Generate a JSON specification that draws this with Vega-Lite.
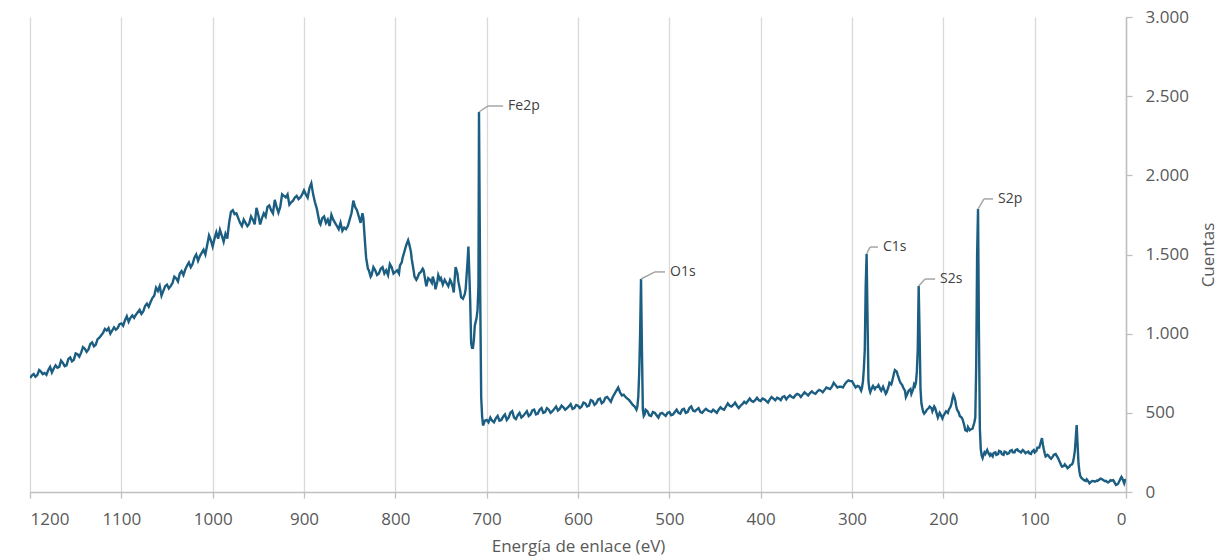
{
  "$schema": "https://vega.github.io/schema/vega-lite/v6.json",
  "width": 1096,
  "height": 475,
  "autosize": {"type": "none"},
  "padding": {"left": 30, "top": 17, "right": 100, "bottom": 67},
  "background": "white",
  "config": {
    "view": {"stroke": null},
    "locale": {"number": {"decimal": ",", "thousands": ".", "grouping": [3], "currency": ["", " €"]}},
    "font": "Open Sans"
  },
  "datasets": {
    "spectrum": [
      {"e":1200,"c":720},{"e":1198,"c":735},{"e":1196,"c":745},{"e":1194,"c":728},{"e":1192,"c":738},{"e":1190,"c":770},{"e":1188,"c":760},{"e":1186,"c":745},{"e":1184,"c":752},{"e":1182,"c":740},{"e":1180,"c":770},{"e":1178,"c":790},{"e":1176,"c":755},{"e":1174,"c":780},{"e":1172,"c":800},{"e":1170,"c":785},{"e":1168,"c":790},{"e":1166,"c":830},{"e":1164,"c":815},{"e":1162,"c":795},{"e":1160,"c":800},{"e":1158,"c":840},{"e":1156,"c":850},{"e":1154,"c":825},{"e":1152,"c":835},{"e":1150,"c":875},{"e":1148,"c":870},{"e":1146,"c":855},{"e":1144,"c":880},{"e":1142,"c":915},{"e":1140,"c":905},{"e":1138,"c":885},{"e":1136,"c":900},{"e":1134,"c":935},{"e":1132,"c":945},{"e":1130,"c":920},{"e":1128,"c":930},{"e":1126,"c":965},{"e":1124,"c":975},{"e":1122,"c":990},{"e":1120,"c":1005},{"e":1118,"c":1030},{"e":1116,"c":1020},{"e":1114,"c":1035},{"e":1112,"c":1000},{"e":1110,"c":1020},{"e":1108,"c":1040},{"e":1106,"c":1025},{"e":1104,"c":1035},{"e":1102,"c":1060},{"e":1100,"c":1065},{"e":1098,"c":1050},{"e":1096,"c":1085},{"e":1094,"c":1110},{"e":1092,"c":1075},{"e":1090,"c":1100},{"e":1088,"c":1115},{"e":1086,"c":1100},{"e":1084,"c":1120},{"e":1082,"c":1135},{"e":1080,"c":1150},{"e":1078,"c":1125},{"e":1076,"c":1140},{"e":1074,"c":1175},{"e":1072,"c":1190},{"e":1070,"c":1170},{"e":1068,"c":1200},{"e":1066,"c":1225},{"e":1064,"c":1240},{"e":1062,"c":1290},{"e":1060,"c":1270},{"e":1058,"c":1300},{"e":1056,"c":1240},{"e":1054,"c":1270},{"e":1052,"c":1300},{"e":1050,"c":1310},{"e":1048,"c":1285},{"e":1046,"c":1300},{"e":1044,"c":1320},{"e":1042,"c":1360},{"e":1040,"c":1350},{"e":1038,"c":1330},{"e":1036,"c":1380},{"e":1034,"c":1395},{"e":1032,"c":1370},{"e":1030,"c":1405},{"e":1028,"c":1430},{"e":1026,"c":1450},{"e":1024,"c":1420},{"e":1022,"c":1440},{"e":1020,"c":1480},{"e":1018,"c":1500},{"e":1016,"c":1460},{"e":1014,"c":1490},{"e":1012,"c":1510},{"e":1010,"c":1530},{"e":1008,"c":1500},{"e":1006,"c":1560},{"e":1004,"c":1620},{"e":1002,"c":1590},{"e":1000,"c":1550},{"e":998,"c":1600},{"e":996,"c":1640},{"e":994,"c":1600},{"e":992,"c":1655},{"e":990,"c":1620},{"e":988,"c":1580},{"e":986,"c":1630},{"e":984,"c":1600},{"e":982,"c":1700},{"e":980,"c":1770},{"e":978,"c":1780},{"e":976,"c":1755},{"e":974,"c":1760},{"e":972,"c":1730},{"e":970,"c":1700},{"e":968,"c":1680},{"e":966,"c":1720},{"e":964,"c":1700},{"e":962,"c":1680},{"e":960,"c":1695},{"e":958,"c":1740},{"e":956,"c":1720},{"e":954,"c":1690},{"e":952,"c":1795},{"e":950,"c":1750},{"e":948,"c":1690},{"e":946,"c":1730},{"e":944,"c":1760},{"e":942,"c":1740},{"e":940,"c":1800},{"e":938,"c":1810},{"e":936,"c":1780},{"e":934,"c":1760},{"e":932,"c":1845},{"e":930,"c":1800},{"e":928,"c":1765},{"e":926,"c":1800},{"e":924,"c":1880},{"e":922,"c":1870},{"e":920,"c":1860},{"e":918,"c":1880},{"e":916,"c":1815},{"e":914,"c":1830},{"e":912,"c":1840},{"e":910,"c":1860},{"e":908,"c":1870},{"e":906,"c":1850},{"e":904,"c":1860},{"e":902,"c":1880},{"e":900,"c":1905},{"e":898,"c":1880},{"e":896,"c":1860},{"e":894,"c":1920},{"e":892,"c":1950},{"e":890,"c":1880},{"e":888,"c":1830},{"e":886,"c":1790},{"e":885,"c":1760},{"e":883,"c":1700},{"e":882,"c":1690},{"e":880,"c":1730},{"e":878,"c":1740},{"e":876,"c":1700},{"e":874,"c":1720},{"e":872,"c":1680},{"e":870,"c":1750},{"e":868,"c":1720},{"e":866,"c":1700},{"e":864,"c":1680},{"e":862,"c":1660},{"e":860,"c":1700},{"e":858,"c":1650},{"e":856,"c":1670},{"e":854,"c":1660},{"e":852,"c":1680},{"e":850,"c":1720},{"e":848,"c":1760},{"e":846,"c":1840},{"e":844,"c":1800},{"e":842,"c":1780},{"e":840,"c":1740},{"e":838,"c":1700},{"e":836,"c":1760},{"e":835,"c":1730},{"e":833,"c":1560},{"e":832,"c":1480},{"e":830,"c":1410},{"e":829,"c":1400},{"e":827,"c":1360},{"e":826,"c":1370},{"e":824,"c":1420},{"e":822,"c":1400},{"e":820,"c":1370},{"e":818,"c":1380},{"e":816,"c":1410},{"e":814,"c":1420},{"e":812,"c":1380},{"e":810,"c":1400},{"e":808,"c":1370},{"e":806,"c":1440},{"e":804,"c":1420},{"e":802,"c":1380},{"e":800,"c":1390},{"e":798,"c":1400},{"e":796,"c":1380},{"e":795,"c":1430},{"e":793,"c":1450},{"e":792,"c":1480},{"e":790,"c":1520},{"e":788,"c":1560},{"e":786,"c":1590},{"e":785,"c":1570},{"e":783,"c":1520},{"e":782,"c":1470},{"e":780,"c":1400},{"e":779,"c":1360},{"e":777,"c":1340},{"e":776,"c":1350},{"e":774,"c":1380},{"e":772,"c":1390},{"e":770,"c":1410},{"e":769,"c":1400},{"e":767,"c":1330},{"e":766,"c":1300},{"e":764,"c":1350},{"e":762,"c":1340},{"e":760,"c":1320},{"e":759,"c":1360},{"e":757,"c":1320},{"e":756,"c":1280},{"e":754,"c":1330},{"e":753,"c":1370},{"e":751,"c":1340},{"e":750,"c":1350},{"e":748,"c":1310},{"e":746,"c":1340},{"e":744,"c":1320},{"e":742,"c":1300},{"e":740,"c":1340},{"e":739,"c":1330},{"e":737,"c":1290},{"e":736,"c":1260},{"e":735,"c":1350},{"e":734,"c":1420},{"e":732,"c":1380},{"e":731,"c":1330},{"e":729,"c":1270},{"e":728,"c":1230},{"e":726,"c":1220},{"e":724,"c":1250},{"e":723,"c":1280},{"e":721,"c":1450},{"e":720,"c":1550},{"e":719,"c":1380},{"e":718,"c":1200},{"e":717,"c":940},{"e":716,"c":910},{"e":715,"c":910},{"e":714,"c":960},{"e":713,"c":1050},{"e":711,"c":1100},{"e":710,"c":1150},{"e":709,"c":1300},{"e":708.4,"c":2400},{"e":707,"c":1200},{"e":706,"c":600},{"e":705,"c":480},{"e":704,"c":420},{"e":702,"c":450},
      {"e":700,"c":455},{"e":698,"c":440},{"e":696,"c":470},{"e":694,"c":450},{"e":692,"c":440},{"e":690,"c":465},{"e":688,"c":480},{"e":686,"c":450},{"e":684,"c":455},{"e":682,"c":475},{"e":680,"c":490},{"e":678,"c":455},{"e":676,"c":470},{"e":674,"c":500},{"e":672,"c":510},{"e":670,"c":470},{"e":668,"c":460},{"e":666,"c":485},{"e":664,"c":500},{"e":662,"c":470},{"e":660,"c":480},{"e":658,"c":495},{"e":656,"c":510},{"e":654,"c":480},{"e":652,"c":490},{"e":650,"c":515},{"e":648,"c":520},{"e":646,"c":490},{"e":644,"c":495},{"e":642,"c":520},{"e":640,"c":530},{"e":638,"c":500},{"e":636,"c":505},{"e":634,"c":530},{"e":632,"c":520},{"e":630,"c":500},{"e":628,"c":510},{"e":626,"c":525},{"e":624,"c":540},{"e":622,"c":515},{"e":620,"c":525},{"e":618,"c":545},{"e":616,"c":535},{"e":614,"c":520},{"e":612,"c":530},{"e":610,"c":540},{"e":608,"c":555},{"e":606,"c":525},{"e":604,"c":530},{"e":602,"c":550},{"e":600,"c":545},{"e":598,"c":530},{"e":596,"c":540},{"e":594,"c":565},{"e":592,"c":560},{"e":590,"c":540},{"e":588,"c":545},{"e":586,"c":580},{"e":584,"c":575},{"e":582,"c":550},{"e":580,"c":560},{"e":578,"c":585},{"e":576,"c":590},{"e":574,"c":560},{"e":572,"c":570},{"e":570,"c":595},{"e":568,"c":600},{"e":566,"c":585},{"e":564,"c":570},{"e":562,"c":600},{"e":560,"c":620},{"e":558,"c":640},{"e":556,"c":660},{"e":554,"c":630},{"e":552,"c":610},{"e":550,"c":615},{"e":548,"c":600},{"e":546,"c":590},{"e":544,"c":580},{"e":542,"c":565},{"e":540,"c":550},{"e":538,"c":540},{"e":536,"c":520},{"e":535,"c":540},{"e":534,"c":600},{"e":533,"c":750},{"e":532,"c":1000},{"e":531,"c":1345},{"e":530,"c":900},{"e":529,"c":520},{"e":528,"c":480},{"e":527,"c":490},{"e":526,"c":520},{"e":524,"c":510},{"e":522,"c":485},{"e":520,"c":480},{"e":518,"c":505},{"e":516,"c":500},{"e":514,"c":485},{"e":512,"c":470},{"e":510,"c":495},{"e":508,"c":500},{"e":506,"c":490},{"e":504,"c":480},{"e":502,"c":500},{"e":500,"c":505},{"e":498,"c":485},{"e":496,"c":490},{"e":494,"c":505},{"e":492,"c":520},{"e":490,"c":500},{"e":488,"c":495},{"e":486,"c":520},{"e":484,"c":525},{"e":482,"c":500},{"e":480,"c":505},{"e":478,"c":530},{"e":476,"c":540},{"e":474,"c":515},{"e":472,"c":510},{"e":470,"c":520},{"e":468,"c":530},{"e":466,"c":505},{"e":464,"c":500},{"e":462,"c":515},{"e":460,"c":525},{"e":458,"c":515},{"e":456,"c":510},{"e":454,"c":505},{"e":452,"c":520},{"e":450,"c":510},{"e":448,"c":500},{"e":446,"c":520},{"e":444,"c":535},{"e":442,"c":525},{"e":440,"c":520},{"e":438,"c":540},{"e":436,"c":560},{"e":434,"c":545},{"e":432,"c":540},{"e":430,"c":550},{"e":428,"c":565},{"e":426,"c":545},{"e":424,"c":530},{"e":422,"c":545},{"e":420,"c":555},{"e":418,"c":570},{"e":416,"c":560},{"e":414,"c":575},{"e":412,"c":590},{"e":410,"c":575},{"e":408,"c":570},{"e":406,"c":580},{"e":404,"c":595},{"e":402,"c":580},{"e":400,"c":575},{"e":398,"c":590},{"e":396,"c":585},{"e":394,"c":575},{"e":392,"c":565},{"e":390,"c":585},{"e":388,"c":600},{"e":386,"c":590},{"e":384,"c":580},{"e":382,"c":595},{"e":380,"c":590},{"e":378,"c":580},{"e":376,"c":600},{"e":374,"c":605},{"e":372,"c":585},{"e":370,"c":600},{"e":368,"c":610},{"e":366,"c":600},{"e":364,"c":595},{"e":362,"c":610},{"e":360,"c":620},{"e":358,"c":615},{"e":356,"c":600},{"e":354,"c":615},{"e":352,"c":630},{"e":350,"c":620},{"e":348,"c":610},{"e":346,"c":625},{"e":344,"c":635},{"e":342,"c":625},{"e":340,"c":620},{"e":338,"c":635},{"e":336,"c":645},{"e":334,"c":640},{"e":332,"c":630},{"e":330,"c":645},{"e":328,"c":660},{"e":326,"c":655},{"e":324,"c":650},{"e":322,"c":665},{"e":320,"c":690},{"e":318,"c":675},{"e":316,"c":660},{"e":314,"c":665},{"e":312,"c":665},{"e":310,"c":660},{"e":308,"c":680},{"e":306,"c":695},{"e":304,"c":705},{"e":302,"c":700},{"e":300,"c":700},{"e":298,"c":680},{"e":296,"c":660},{"e":294,"c":670},{"e":292,"c":665},{"e":290,"c":640},{"e":289,"c":660},{"e":288,"c":700},{"e":287,"c":780},{"e":286,"c":900},{"e":285,"c":1300},{"e":284,"c":1503},{"e":283,"c":1100},{"e":282,"c":700},{"e":281,"c":650},{"e":280,"c":630},{"e":278,"c":660},{"e":277,"c":670},{"e":275,"c":650},{"e":274,"c":660},{"e":272,"c":665},{"e":271,"c":675},{"e":269,"c":650},{"e":268,"c":640},{"e":266,"c":665},{"e":265,"c":650},{"e":263,"c":620},{"e":262,"c":630},{"e":260,"c":665},{"e":259,"c":690},{"e":257,"c":680},{"e":256,"c":700},{"e":254,"c":750},{"e":253,"c":770},{"e":251,"c":760},{"e":250,"c":740},{"e":248,"c":705},{"e":247,"c":690},{"e":245,"c":675},{"e":244,"c":660},{"e":242,"c":640},{"e":241,"c":600},{"e":239,"c":625},{"e":238,"c":640},{"e":236,"c":650},{"e":235,"c":620},{"e":233,"c":650},{"e":232,"c":680},{"e":231,"c":670},{"e":230,"c":690},{"e":229,"c":760},{"e":228,"c":900},{"e":227,"c":1301},{"e":226,"c":1000},{"e":225,"c":650},{"e":224,"c":560},{"e":223,"c":530},{"e":222,"c":505},{"e":221,"c":495},{"e":219,"c":510},{"e":218,"c":520},{"e":216,"c":530},{"e":215,"c":540},{"e":213,"c":530},{"e":212,"c":510},{"e":210,"c":540},{"e":209,"c":530},{"e":207,"c":490},{"e":206,"c":470},{"e":204,"c":500},{"e":203,"c":490},{"e":201,"c":465},{"e":200,"c":480},{"e":198,"c":500},{"e":197,"c":510},{"e":195,"c":500},{"e":194,"c":520},{"e":192,"c":540},{"e":191,"c":560},{"e":190,"c":590},{"e":189,"c":613},{"e":188,"c":600},{"e":187,"c":580},{"e":186,"c":545},{"e":185,"c":520},{"e":183,"c":500},{"e":182,"c":480},{"e":180,"c":470},{"e":179,"c":460},{"e":177,"c":420},{"e":176,"c":390},{"e":174,"c":385},{"e":173,"c":410},{"e":171,"c":390},{"e":170,"c":395},{"e":168,"c":400},{"e":167,"c":420},{"e":166,"c":440},{"e":165,"c":470},{"e":164,"c":800},{"e":163,"c":1500},{"e":162,"c":1787},{"e":161,"c":1000},{"e":160,"c":400},{"e":159,"c":270},{"e":158,"c":230},{"e":157,"c":215},{"e":156,"c":235},{"e":155,"c":250},{"e":154,"c":240},{"e":152,"c":265},{"e":151,"c":250},{"e":149,"c":230},{"e":148,"c":240},{"e":146,"c":225},{"e":145,"c":245},{"e":143,"c":250},{"e":142,"c":235},{"e":140,"c":240},{"e":139,"c":260},{"e":137,"c":255},{"e":136,"c":240},{"e":134,"c":235},{"e":133,"c":255},{"e":131,"c":250},{"e":130,"c":240},{"e":128,"c":245},{"e":127,"c":260},{"e":125,"c":265},{"e":124,"c":250},{"e":122,"c":250},{"e":121,"c":265},{"e":119,"c":270},{"e":118,"c":260},{"e":116,"c":255},{"e":115,"c":250},{"e":113,"c":265},{"e":112,"c":260},{"e":110,"c":245},{"e":109,"c":250},{"e":107,"c":255},{"e":106,"c":245},{"e":104,"c":240},{"e":103,"c":255},{"e":101,"c":265},{"e":100,"c":250},{"e":98,"c":260},{"e":97,"c":280},{"e":95,"c":280},{"e":94,"c":300},{"e":93,"c":320},{"e":92,"c":340},{"e":91,"c":300},{"e":90,"c":270},{"e":89,"c":245},{"e":88,"c":225},{"e":86,"c":235},{"e":85,"c":230},{"e":83,"c":215},{"e":82,"c":210},{"e":80,"c":225},{"e":79,"c":235},{"e":77,"c":240},{"e":76,"c":230},{"e":74,"c":210},{"e":73,"c":195},{"e":71,"c":170},{"e":70,"c":160},{"e":68,"c":165},{"e":67,"c":175},{"e":65,"c":160},{"e":64,"c":150},{"e":62,"c":160},{"e":61,"c":170},{"e":59,"c":175},{"e":58,"c":190},{"e":57,"c":220},{"e":56,"c":260},{"e":55,"c":340},{"e":54,"c":423},{"e":53,"c":300},{"e":52,"c":180},{"e":51,"c":130},{"e":50,"c":100},{"e":49,"c":90},{"e":47,"c":80},{"e":46,"c":75},{"e":44,"c":70},{"e":43,"c":80},{"e":41,"c":65},{"e":40,"c":55},{"e":38,"c":65},{"e":37,"c":70},{"e":35,"c":68},{"e":34,"c":65},{"e":32,"c":72},{"e":31,"c":70},{"e":29,"c":80},{"e":28,"c":85},{"e":26,"c":80},{"e":25,"c":75},{"e":23,"c":68},{"e":22,"c":70},{"e":20,"c":60},{"e":19,"c":62},{"e":17,"c":75},{"e":16,"c":72},{"e":14,"c":75},{"e":13,"c":65},{"e":12,"c":55},{"e":11,"c":45},{"e":9,"c":50},{"e":8,"c":60},{"e":6,"c":85},{"e":5,"c":95},{"e":4,"c":85},{"e":3,"c":70},{"e":2,"c":55},{"e":1,"c":75},{"e":0,"c":76}
    ],
    "labels": [
      {"label":"Fe2p","e":708.4,"c":2400,"ee":698.5,"ec":2438,"te":682},
      {"label":"O1s","e":531,"c":1345,"ee":515.7,"ec":1390,"te":504.7},
      {"label":"C1s","e":284,"c":1503,"ee":280.3,"ec":1547,"te":271.5},
      {"label":"S2s","e":227,"c":1301,"ee":220,"ec":1345,"te":209},
      {"label":"S2p","e":162,"c":1787,"ee":155.5,"ec":1851,"te":145.6}
    ]
  },
  "layer": [
    {
      "data": {"name": "spectrum"},
      "mark": {"type": "line", "color": "#1b5e82", "strokeWidth": 2.4, "clip": true},
      "encoding": {
        "x": {
          "field": "e", "type": "quantitative",
          "scale": {"domain": [0, 1200], "reverse": true, "nice": false, "zero": false},
          "axis": {
            "values": [0,100,200,300,400,500,600,700,800,900,1000,1100,1200],
            "title": "Energía de enlace (eV)",
            "format": "d",
            "grid": true, "gridColor": "#d9d9d9", "gridWidth": 1.3,
            "domainColor": "#bfbfbf", "domainWidth": 1.5,
            "tickColor": "#bfbfbf", "tickSize": 6, "tickWidth": 1.3,
            "labelColor": "#595959", "labelFontSize": 17, "labelPadding": 13,
            "titleColor": "#595959", "titleFontSize": 17, "titleFontWeight": "normal", "titlePadding": 11
          }
        },
        "y": {
          "field": "c", "type": "quantitative",
          "scale": {"domain": [0, 3000], "nice": false},
          "axis": {
            "orient": "right",
            "values": [0,500,1000,1500,2000,2500,3000],
            "format": ",.0f",
            "title": "Cuentas",
            "titleAngle": -90,
            "titleX": 82,
            "titleY": 237.5,
            "titleAlign": "center",
            "titleBaseline": "middle",
            "grid": false,
            "domainColor": "#bfbfbf", "domainWidth": 1.5,
            "tickColor": "#bfbfbf", "tickSize": 6, "tickWidth": 1.3,
            "labelColor": "#595959", "labelFontSize": 17, "labelPadding": 13,
            "titleColor": "#595959", "titleFontSize": 17, "titleFontWeight": "normal"
          }
        }
      }
    },
    {
      "data": {"name": "labels"},
      "mark": {"type": "rule", "color": "#a6a6a6", "strokeWidth": 1.5},
      "encoding": {
        "x": {"field": "e", "type": "quantitative"},
        "y": {"field": "c", "type": "quantitative"},
        "x2": {"field": "ee"},
        "y2": {"field": "ec"}
      }
    },
    {
      "data": {"name": "labels"},
      "mark": {"type": "rule", "color": "#a6a6a6", "strokeWidth": 1.5},
      "encoding": {
        "x": {"field": "ee", "type": "quantitative"},
        "y": {"field": "ec", "type": "quantitative"},
        "x2": {"field": "te"},
        "y2": {"field": "ec"}
      }
    },
    {
      "data": {"name": "labels"},
      "mark": {"type": "text", "align": "left", "baseline": "middle", "dx": 5, "fontSize": 14, "color": "#404040"},
      "encoding": {
        "x": {"field": "te", "type": "quantitative"},
        "y": {"field": "ec", "type": "quantitative"},
        "text": {"field": "label"}
      }
    }
  ]
}
